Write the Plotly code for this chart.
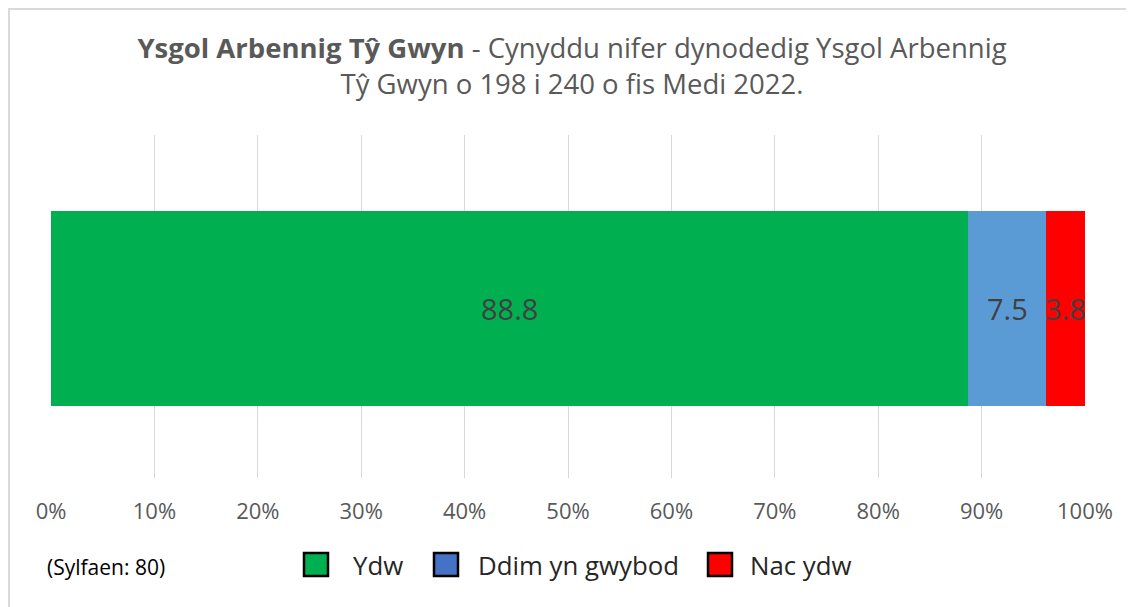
import plotly.graph_objects as go

categories = ["Ysgol Arbennig Tŷ Gwyn"]
series_names = ["Ydw", "Ddim yn gwybod", "Nac ydw"]
series_values = [88.8, 7.5, 3.8]
bar_colors = ["#00B050", "#5B9BD5", "#FF0000"]
legend_colors = ["#00B050", "#4472C4", "#FF0000"]
tick_vals = [0, 10, 20, 30, 40, 50, 60, 70, 80, 90, 100]
tick_text = [f"{v}%" for v in tick_vals]

FONT = "Open Sans"
W, H = 1126, 599
L, R, T, B = 43, 49, 127, 129
PW, PH = W - L - R, H - T - B


def px(sx):
    # page x (body offset 8px) -> paper x
    return (sx - 8 - L) / PW


def py(sy):
    # page y (body offset 8px) -> paper y
    return (H - B - (sy - 8)) / PH


fig = go.Figure()
for name, val, col in zip(series_names, series_values, bar_colors):
    fig.add_trace(go.Bar(
        y=categories, x=[val], name=name, orientation="h",
        marker=dict(color=col, line=dict(width=0)),
        width=0.57, showlegend=False, hoverinfo="x+name",
    ))

total = sum(series_values)
cum = 0
for val in series_values:
    center = (cum + val / 2) / total * 100
    cum += val
    fig.add_annotation(x=center, y=categories[0], text=f"{val}", showarrow=False,
                       font=dict(family=FONT, size=29, color="#404040"), xref="x", yref="y")

# manual legend (large square swatches with black outline)
legend_swatch_x = [303, 433, 707]
legend_text_x = [351, 476, 748]
for name, col, sx, tx in zip(series_names, legend_colors, legend_swatch_x, legend_text_x):
    fig.add_shape(type="rect", xref="paper", yref="paper",
                  x0=px(sx + 1), x1=px(sx + 25), y0=py(576), y1=py(553),
                  fillcolor=col, line=dict(color="black", width=2.5))
    fig.add_annotation(text=name, xref="paper", yref="paper", x=px(tx), y=py(565),
                       xanchor="left", yanchor="middle", showarrow=False,
                       font=dict(family=FONT, size=25.8, color="#262626"))

fig.update_layout(
    width=W, height=H,
    barmode="stack", barnorm="percent",
    paper_bgcolor="white", plot_bgcolor="white",
    margin=dict(l=L, r=R, t=T, b=B, autoexpand=False),
    title=dict(
        text="<b>Ysgol Arbennig Tŷ Gwyn</b> - Cynyddu nifer dynodedig Ysgol Arbennig<br>Tŷ Gwyn o 198 i 240 o fis Medi 2022.",
        x=564 / W, xanchor="center", xref="container", y=1 - 50 / H, yanchor="top", yref="container",
        font=dict(family=FONT, size=27.5, color="#595959"),
    ),
    xaxis=dict(range=[0, 100], tickvals=tick_vals, ticktext=tick_text,
               showgrid=True, gridcolor="#D9D9D9", gridwidth=1.3, zeroline=False,
               tickfont=dict(family=FONT, size=22, color="#595959"), ticks="",
               ticklabelstandoff=18, fixedrange=True, automargin=False),
    yaxis=dict(showticklabels=False, showgrid=False, zeroline=False,
               range=[-0.4942, 0.5058], automargin=False),
    showlegend=False,
)
fig.add_annotation(text="(Sylfaen: 80)", xref="paper", yref="paper", x=px(45), y=py(567),
                   xanchor="left", yanchor="middle", showarrow=False,
                   font=dict(family=FONT, size=21, color="black"))
fig.add_shape(type="line", xref="paper", yref="paper",
              x0=-L / PW, x1=(W - L) / PW, y0=(H - B) / PH - 1 / PH, y1=(H - B) / PH - 1 / PH,
              line=dict(color="#D9D9D9", width=2))
fig.add_shape(type="line", xref="paper", yref="paper",
              x0=(1 - L) / PW, x1=(1 - L) / PW, y0=-B / PH, y1=(H - B) / PH,
              line=dict(color="#D9D9D9", width=2))
fig.write_html("out.html")
